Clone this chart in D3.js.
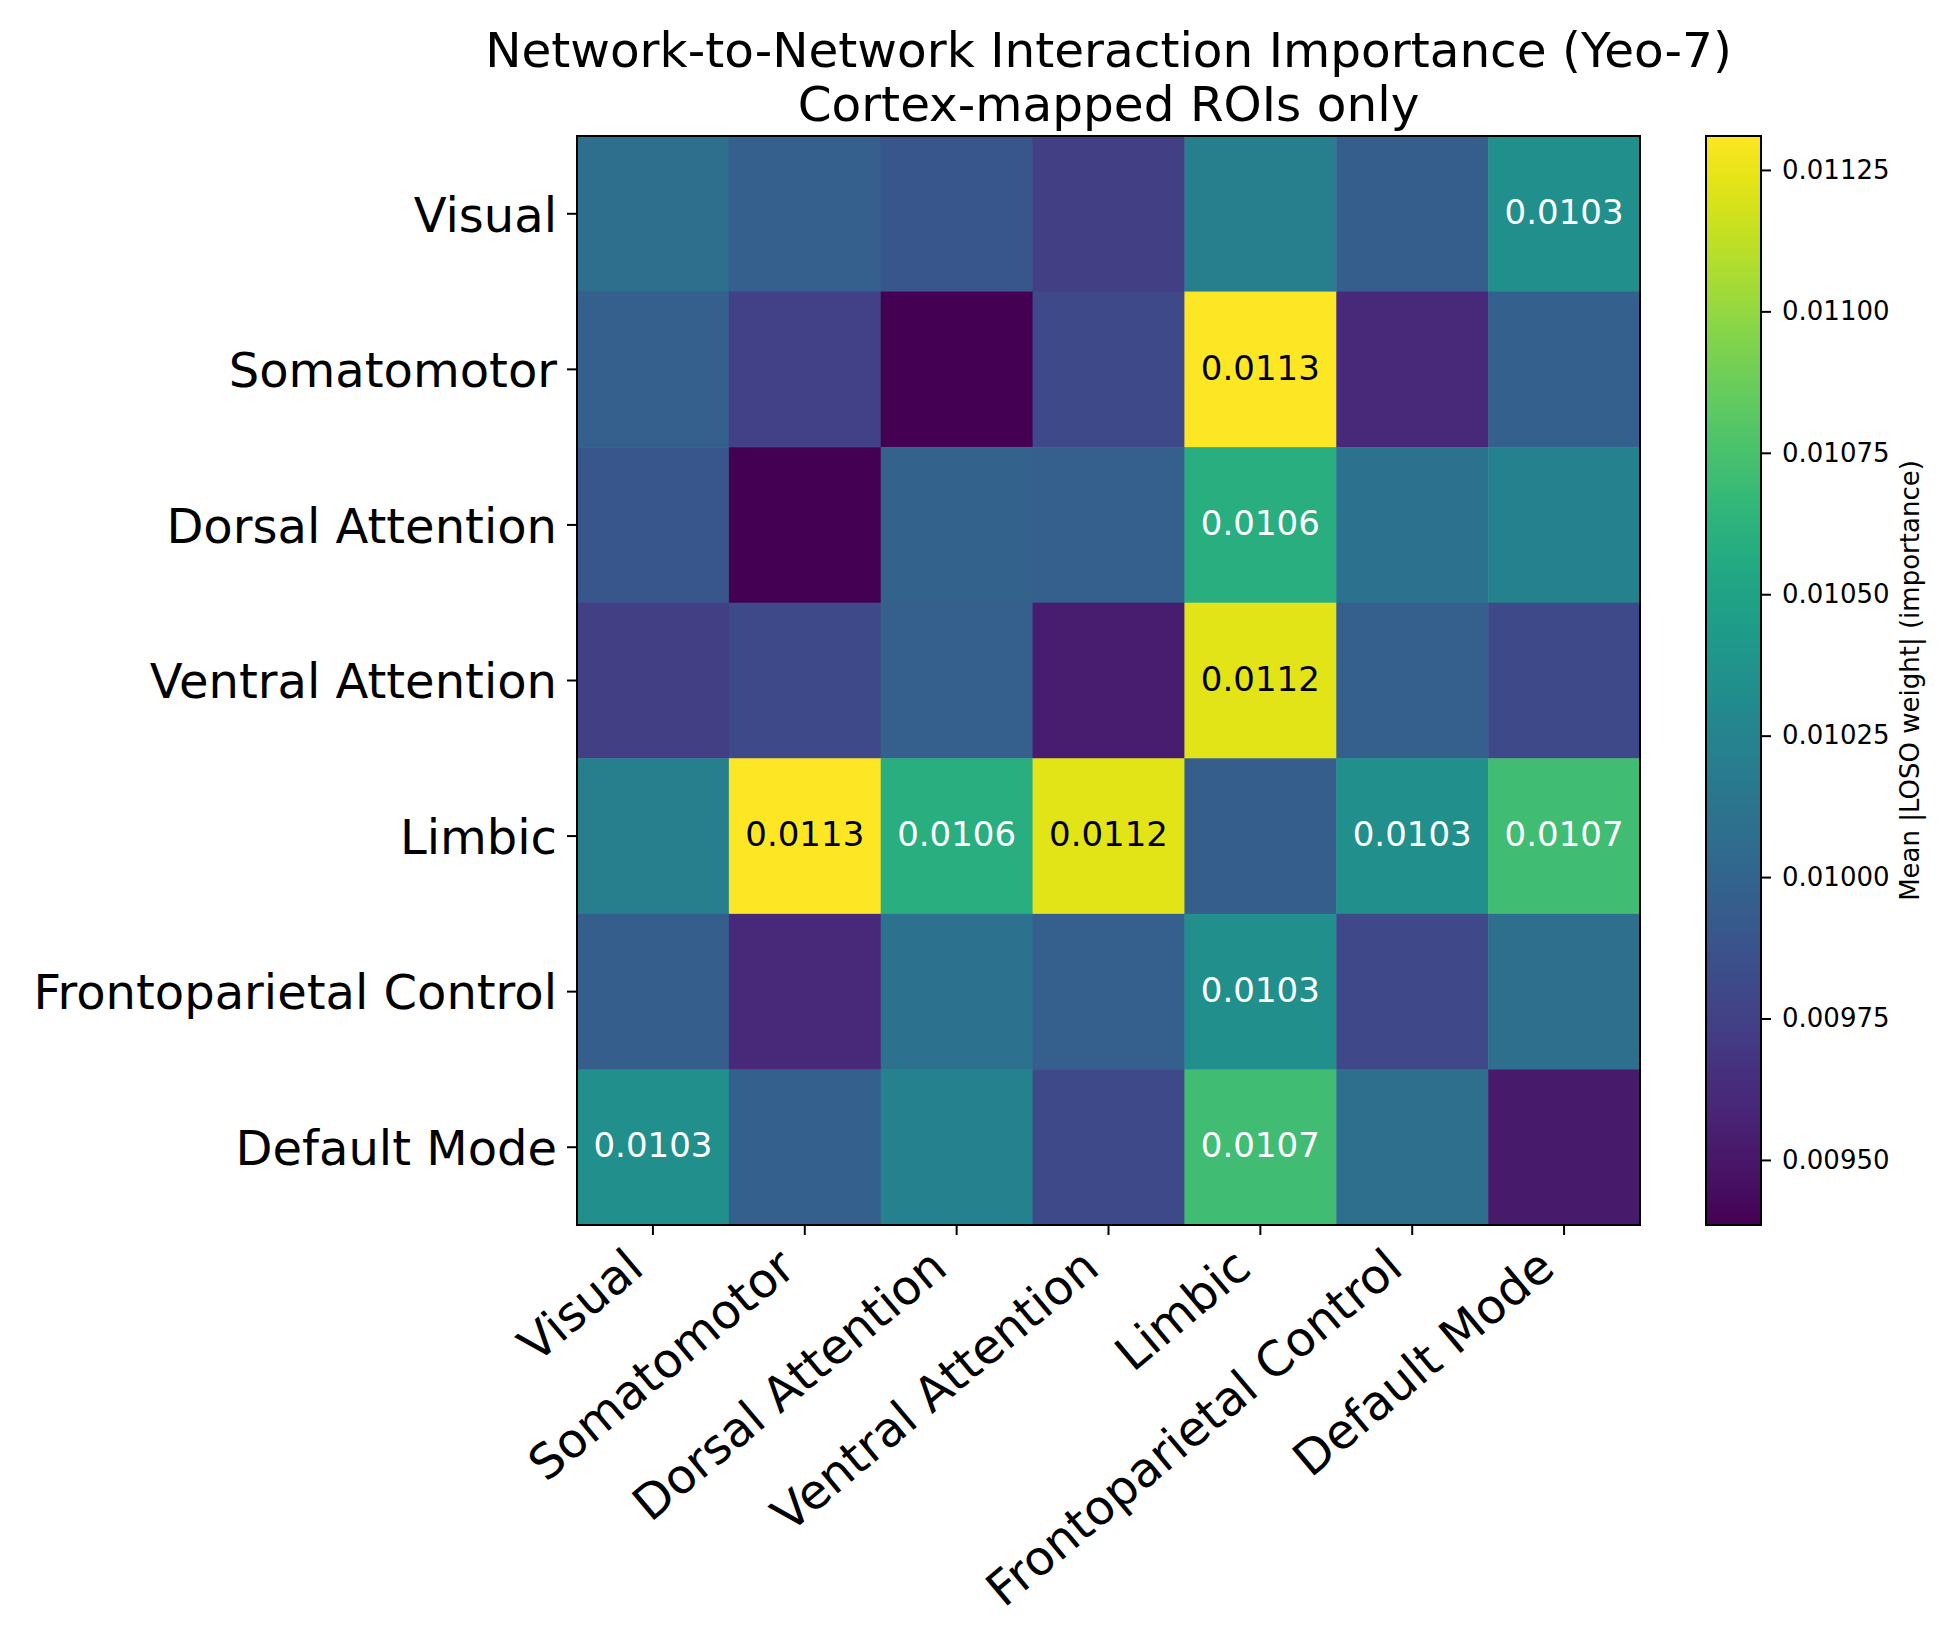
<!DOCTYPE html>
<html>
<head>
<meta charset="utf-8">
<script src="https://cdn.jsdelivr.net/npm/d3@7"></script>
<style>
  body {
    margin: 0;
    background: #fff;
  }
  text {
    font-family: "DejaVu Sans", sans-serif;
  }
</style>
</head>
<body>
<div id="chart"></div>
<script>
// network names (rows and columns are the same)
var networks = ['Visual', 'Somatomotor', 'Dorsal Attention', 'Ventral Attention',
  'Limbic', 'Frontoparietal Control', 'Default Mode'];

// one row per network
var rowVisual = [0.01008, 0.00996, 0.00990, 0.00974, 0.01021, 0.00995, 0.01034];
var rowSomatomotor = [0.00996, 0.00975, 0.009385, 0.00981, 0.01131, 0.00961, 0.00997];
var rowDorsal = [0.00990, 0.009385, 0.00998, 0.00996, 0.01060, 0.01010, 0.01022];
var rowVentral = [0.00974, 0.00981, 0.00996, 0.00953, 0.01122, 0.00996, 0.00981];
var rowLimbic = [0.01021, 0.01131, 0.01060, 0.01122, 0.00995, 0.01034, 0.01072];
var rowFrontoparietal = [0.00995, 0.00961, 0.01010, 0.00996, 0.01034, 0.00980, 0.01008];
var rowDefault = [0.01034, 0.00997, 0.01022, 0.00981, 0.01072, 0.01008, 0.00952];

var colorbarTicks = [0.00950, 0.00975, 0.01000, 0.01025, 0.01050, 0.01075, 0.01100, 0.01125];

var titleLines = ['Network-to-Network Interaction Importance (Yeo-7)', 'Cortex-mapped ROIs only'];
var colorbarLabel = 'Mean |LOSO weight| (importance)';

// only the strongest pairs get a number written on them
var annotateFrom = 0.0103;
var darkTextFrom = 0.0110;

var matrix = [rowVisual, rowSomatomotor, rowDorsal, rowVentral, rowLimbic,
  rowFrontoparietal, rowDefault];

var cells = [];
matrix.forEach(function (row, i) {
  row.forEach(function (v, j) {
    cells.push({
      row: networks[i],
      col: networks[j],
      value: v
    });
  });
});

var width = 1941,
  height = 1650;

var plot = {
  left: 577,
  right: 1640,
  top: 136,
  bottom: 1225
};

var bar = {
  left: 1706,
  right: 1761
};

var svg = d3.select('#chart')
  .append('svg')
  .attr('width', width)
  .attr('height', height);

// scales
var x = d3.scaleBand()
  .domain(networks)
  .range([plot.left, plot.right]);

var y = d3.scaleBand()
  .domain(networks)
  .range([plot.top, plot.bottom]);

var extent = d3.extent(cells, d => d.value);

var color = d3.scaleSequential(d3.interpolateViridis)
  .domain(extent);

// heatmap cells
svg.append('g')
  .selectAll('rect')
  .data(cells)
  .enter()
  .append('rect')
  .attr('x', d => x(d.col))
  .attr('y', d => y(d.row))
  .attr('width', x.bandwidth() + 0.5)
  .attr('height', y.bandwidth() + 0.5)
  .attr('fill', d => color(d.value));

// numbers on the strongest cells
var fmt = d3.format('.4f');
svg.append('g')
  .selectAll('text')
  .data(cells.filter(d => d.value >= annotateFrom))
  .enter()
  .append('text')
  .attr('x', d => x(d.col) + x.bandwidth() / 2)
  .attr('y', d => y(d.row) + y.bandwidth() / 2)
  .attr('dy', '0.3em')
  .attr('text-anchor', 'middle')
  .style('font-size', '34px')
  .attr('fill', d => d.value > darkTextFrom ? '#000' : '#fff')
  .text(d => fmt(d.value));

// frame
svg.append('rect')
  .attr('x', plot.left)
  .attr('y', plot.top)
  .attr('width', plot.right - plot.left)
  .attr('height', plot.bottom - plot.top)
  .attr('fill', 'none')
  .attr('stroke', '#000')
  .attr('stroke-width', 2);

// x axis, labels turned 40 degrees
var gx = svg.append('g')
  .attr('transform', 'translate(0,' + plot.bottom + ')')
  .call(d3.axisBottom(x)
    .tickSize(10)
    .tickSizeOuter(0));

gx.select('.domain').remove();
gx.selectAll('line')
  .attr('stroke-width', 2);
gx.selectAll('text')
  .style('font-size', '48px')
  .attr('fill', '#000')
  .attr('text-anchor', 'end')
  .attr('dy', null)
  .attr('y', null)
  .attr('transform', 'translate(-7,47) rotate(-40)');

// y axis
var gy = svg.append('g')
  .attr('transform', 'translate(' + plot.left + ',0)')
  .call(d3.axisLeft(y)
    .tickSize(10)
    .tickPadding(10)
    .tickSizeOuter(0));

gy.select('.domain').remove();
gy.selectAll('line')
  .attr('stroke-width', 2);
gy.selectAll('text')
  .style('font-size', '48px')
  .attr('fill', '#000')
  .attr('dy', '0.37em');

// colorbar
var cbScale = d3.scaleLinear()
  .domain(extent)
  .range([plot.bottom, plot.top]);

var grad = svg.append('defs')
  .append('linearGradient')
  .attr('id', 'viridis')
  .attr('x1', 0)
  .attr('y1', 1)
  .attr('x2', 0)
  .attr('y2', 0);

d3.range(0, 1.0001, 0.02).forEach(function (t) {
  grad.append('stop')
    .attr('offset', t)
    .attr('stop-color', d3.interpolateViridis(t));
});

svg.append('rect')
  .attr('x', bar.left)
  .attr('y', plot.top)
  .attr('width', bar.right - bar.left)
  .attr('height', plot.bottom - plot.top)
  .attr('fill', 'url(#viridis)')
  .attr('stroke', '#000')
  .attr('stroke-width', 2);

var gc = svg.append('g')
  .attr('transform', 'translate(' + bar.right + ',0)')
  .call(d3.axisRight(cbScale)
    .tickValues(colorbarTicks)
    .tickFormat(d3.format('.5f'))
    .tickSize(10)
    .tickPadding(11)
    .tickSizeOuter(0));

gc.select('.domain').remove();
gc.selectAll('line')
  .attr('stroke-width', 2);
gc.selectAll('text')
  .style('font-size', '26px')
  .attr('fill', '#000');

svg.append('text')
  .attr('transform', 'translate(1919,' + (plot.top + plot.bottom) / 2 + ') rotate(-90)')
  .attr('text-anchor', 'middle')
  .style('font-size', '26px')
  .text(colorbarLabel);

// title
svg.append('g')
  .selectAll('text')
  .data(titleLines)
  .enter()
  .append('text')
  .attr('x', (plot.left + plot.right) / 2)
  .attr('y', (d, i) => 67 + i * 54)
  .attr('text-anchor', 'middle')
  .style('font-size', '48.5px')
  .text(d => d);
</script>
</body>
</html>
